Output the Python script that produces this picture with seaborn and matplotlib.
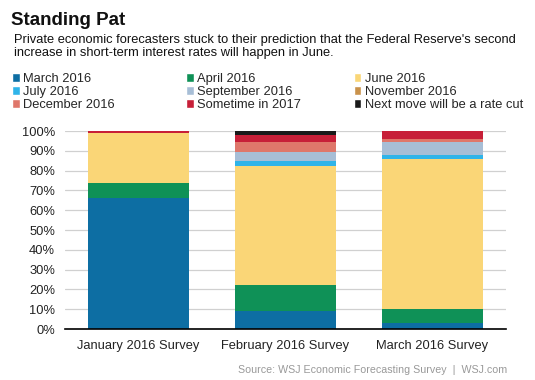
import matplotlib
matplotlib.use("Agg")
import matplotlib.pyplot as plt
from matplotlib.patches import Patch
import seaborn as sns
import pandas as pd

# survey categories and share of forecasters (percent) per predicted month
surveys = ["January 2016 Survey", "February 2016 Survey", "March 2016 Survey"]
series = ["March 2016", "April 2016", "June 2016", "July 2016", "September 2016",
          "November 2016", "December 2016", "Sometime in 2017", "Next move will be a rate cut"]
march_2016 = [66, 9, 3]
april_2016 = [8, 13.5, 7]
june_2016 = [25, 60, 76]
july_2016 = [0, 2.5, 2]
sept_2016 = [0, 4.5, 6.5]
nov_2016 = [0, 0, 0]
dec_2016 = [0, 5, 1.5]
in_2017 = [1, 3.5, 4]
rate_cut = [0, 2, 0]
colors = ["#0d6ea3", "#0f9157", "#fad677", "#2fb4e9", "#a7bed6",
          "#c9924b", "#df776b", "#c71f38", "#1a1a1a"]

values = [march_2016, april_2016, june_2016, july_2016, sept_2016,
          nov_2016, dec_2016, in_2017, rate_cut]

sns.set_style("white")
plt.rcParams["font.family"] = ["Liberation Sans", "DejaVu Sans"]

fig = plt.figure(figsize=(5.35, 3.8), dpi=100)
ax = fig.add_axes([0.121, 0.134, 0.825, 0.521])

bottom = [0, 0, 0]
for name, vals, col in zip(series, values, colors):
    df = pd.DataFrame({"survey": surveys, "pct": vals})
    sns.barplot(data=df, x="survey", y="pct", order=surveys, color=col,
                bottom=bottom, width=0.69, ax=ax, saturation=1, linewidth=0)
    bottom = [b + v for b, v in zip(bottom, vals)]

ax.set_ylim(0, 100)
ax.set_xlim(-0.5, 2.5)
ax.set_yticks(range(0, 101, 10))
ax.set_yticklabels([f"{t}%" for t in range(0, 101, 10)], fontsize=9.3, color="#222222")
ax.yaxis.grid(True, color="#d0d0d0", linewidth=0.9)
ax.set_axisbelow(True)
ax.set_xlabel("")
ax.set_ylabel("")
ax.tick_params(axis="y", length=0, pad=7)
ax.tick_params(axis="x", length=0, labelsize=9.3, pad=8, labelcolor="#222222")
ax.set_xticks([-0.5, 0.5, 1.5, 2.5], minor=True)
ax.tick_params(axis="x", which="minor", length=3, direction="in", width=1)
for s in ["top", "right", "left"]:
    ax.spines[s].set_visible(False)
ax.spines["bottom"].set_color("black")
ax.spines["bottom"].set_linewidth(1.2)

fig.text(0.02, 0.934, "Standing Pat", fontsize=13.5, fontweight="bold", color="#111111")
fig.text(0.026, 0.852, "Private economic forecasters stuck to their prediction that the Federal Reserve's second\n"
         "increase in short-term interest rates will happen in June.",
         fontsize=9.3, color="#111111", linespacing=1.1)

# legend reads row by row: one small legend per column
col_x = [0.022, 0.348, 0.661]
for c in range(3):
    handles = [Patch(facecolor=colors[c + 3 * r], label=series[c + 3 * r]) for r in range(3)]
    fig.legend(handles=handles, loc="upper left", bbox_to_anchor=(col_x[c], 0.808),
               frameon=False, fontsize=9.3, handlelength=0.6, handleheight=0.6,
               handletextpad=0.25, labelspacing=0.08, borderaxespad=0, borderpad=0)

fig.text(0.948, 0.018, "Source: WSJ Economic Forecasting Survey  |  WSJ.com", fontsize=7.7,
         color="#999999", ha="right")

fig.savefig("out.png", dpi=100)
